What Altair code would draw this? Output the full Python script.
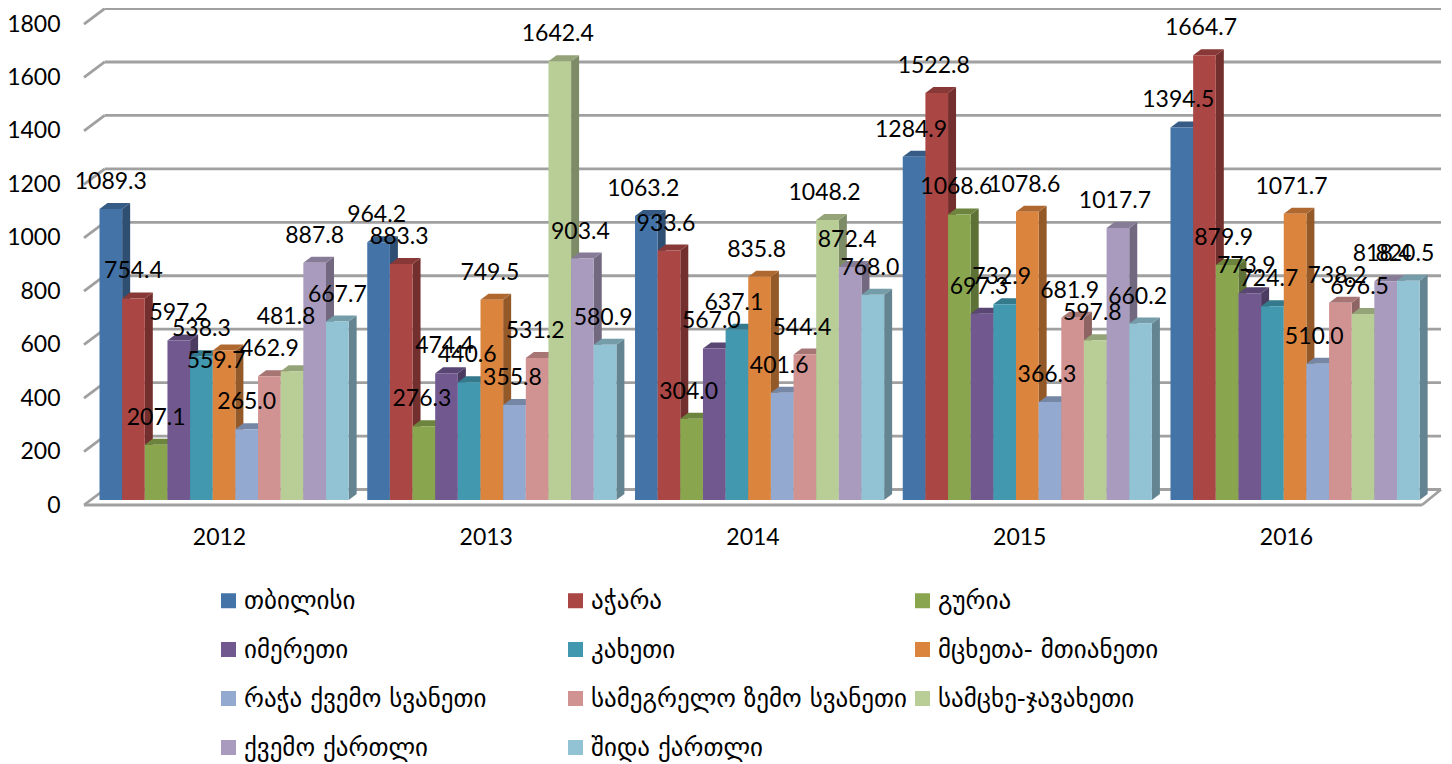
import altair as alt
import pandas as pd

YEARS = [2012, 2013, 2014, 2015, 2016]
REGIONS = ["თბილისი", "აჭარა", "გურია", "იმერეთი", "კახეთი", "მცხეთა- მთიანეთი",
           "რაჭა ქვემო სვანეთი", "სამეგრელო ზემო სვანეთი", "სამცხე-ჯავახეთი",
           "ქვემო ქართლი", "შიდა ქართლი"]
V2012 = [1089.3, 754.4, 207.1, 597.2, 538.3, 559.7, 265.0, 462.9, 481.8, 887.8, 667.7]
V2013 = [964.2, 883.3, 276.3, 474.4, 440.6, 749.5, 355.8, 531.2, 1642.4, 903.4, 580.9]
V2014 = [1063.2, 933.6, 304.0, 567.0, 637.1, 835.8, 401.6, 544.4, 1048.2, 872.4, 768.0]
V2015 = [1284.9, 1522.8, 1068.6, 697.3, 732.9, 1078.6, 366.3, 681.9, 597.8, 1017.7, 660.2]
V2016 = [1394.5, 1664.7, 879.9, 773.9, 724.7, 1071.7, 510.0, 738.2, 696.5, 818.4, 820.5]
VALUES = [V2012, V2013, V2014, V2015, V2016]
FRONT = ["#4473a8", "#aa4644", "#89a54e", "#71588f", "#4198af", "#db843d",
         "#93a9cf", "#d19392", "#b9cd96", "#a99bbd", "#92c3d4"]
TICKS = [0, 200, 400, 600, 800, 1000, 1200, 1400, 1600, 1800]

# drawing geometry, in scale units
W, H = 1357, 497
PX = 0.2672                    # pixels per value unit
YMAX = H / PX
GROUP0, GROUP_STEP, BAR_W = 15.5, 267.75, 22.65
BASE = 5 / PX
DX, DY = 8, 6 / PX             # bar depth
WALL_DX, WALL_DY = 20.7, 15.5 / PX
FRONT_W = 1338
LABEL_GAP = 27 / PX
GROUP_LABEL_SHIFT = [0, -2, -3, -3, -3.5]
# labels the reference moved away from their bars: (year, region index) -> (dx, dy) in px
MOVED = {(2012, 5): (-8, 38), (2012, 8): (-6, -27)}


def shade(hex_color, f):
    r, g, b = [int(hex_color[i:i + 2], 16) for i in (1, 3, 5)]
    return "#%02x%02x%02x" % (int(r * f), int(g * f), int(b * f))


fronts, sides, tops = [], [], []
for gi, (year, vals) in enumerate(zip(YEARS, VALUES)):
    for si, (reg, v) in enumerate(zip(REGIONS, vals)):
        l = GROUP0 + gi * GROUP_STEP + si * BAR_W
        r = l + BAR_W
        t = BASE + v
        bid = f"{year}-{si}"
        mdx, mdy = MOVED.get((year, si), (0, 0))
        fronts.append(dict(id=bid, region=reg, l=l, r=r, t=t, b=BASE,
                           lx=(l + r) / 2 + GROUP_LABEL_SHIFT[gi] + mdx,
                           ly=t + LABEL_GAP - mdy / PX,
                           label=f"{v:.1f}"))
        col = shade(FRONT[si], 0.68)
        sides += [dict(id=bid, col=col, x=r, y=t, y2=BASE),
                  dict(id=bid, col=col, x=r + DX, y=t + DY, y2=BASE + DY)]
        col = shade(FRONT[si], 0.8)
        tops += [dict(id=bid, col=col, x=l, y=t, y2=t),
                 dict(id=bid, col=col, x=l + DX, y=t + DY, y2=t),
                 dict(id=bid, col=col, x=r, y=t + DY, y2=t),
                 dict(id=bid, col=col, x=r + DX, y=t + DY, y2=t + DY)]

fronts = pd.DataFrame(fronts)
sides = pd.DataFrame(sides)
tops = pd.DataFrame(tops)
ticks = pd.DataFrame({"v": TICKS})
ticks["vb"] = ticks.v + WALL_DY
ticks["x0"] = 0.0
ticks["x1"] = WALL_DX
ticks["x2"] = float(W)

xs = alt.Scale(domain=[0, W], range=[0, W], nice=False, zero=False)
ys = alt.Scale(domain=[0, YMAX], nice=False, zero=False)
GRID = "#a0a0a0"
CENTERS = [135 + 266.75 * i for i in range(5)]
label_expr = f"{YEARS}[round((datum.value - 135) / 266.75)] + ''"

x_axis = alt.Axis(values=CENTERS, labelExpr=label_expr, title=None, domain=False, ticks=False,
                  grid=False, labelFont="Lato", labelFontSize=23, labelColor="#000000",
                  labelPadding=32, labelBaseline="middle", labelAngle=0)
y_axis = alt.Axis(values=TICKS, title=None, domain=False, ticks=False, grid=False,
                  labelFont="Lato", labelFontSize=23, labelColor="#000000",
                  labelPadding=24, format="d")

back = alt.Chart(ticks).mark_rule(color=GRID, strokeWidth=2.8).encode(
    x=alt.X("x1:Q", scale=xs, axis=x_axis), x2="x2:Q",
    y=alt.Y("vb:Q", scale=ys, axis=y_axis))
wall = alt.Chart(ticks).mark_rule(color=GRID, strokeWidth=2.8).encode(
    x=alt.X("x0:Q", scale=xs), x2="x1:Q",
    y=alt.Y("v:Q", scale=ys), y2="vb:Q")
floor_front = alt.Chart(pd.DataFrame({"a": [0.0], "b": [float(FRONT_W)], "v": [0.0]})).mark_rule(
    color=GRID, strokeWidth=3).encode(
    x=alt.X("a:Q", scale=xs), x2="b:Q", y=alt.Y("v:Q", scale=ys))
floor_right = alt.Chart(pd.DataFrame({"a": [float(FRONT_W)], "b": [float(W)], "v": [0.0], "w": [WALL_DY]})).mark_rule(
    color=GRID, strokeWidth=2.8).encode(
    x=alt.X("a:Q", scale=xs), x2="b:Q", y=alt.Y("v:Q", scale=ys), y2="w:Q")


def face(df):
    return alt.Chart(df).mark_area(interpolate="linear", opacity=1).encode(
        x=alt.X("x:Q", scale=xs),
        y=alt.Y("y:Q", scale=ys, stack=None),
        y2="y2:Q",
        detail="id:N",
        color=alt.Color("col:N", scale=None),
    )


front = alt.Chart(fronts).mark_rect().encode(
    x=alt.X("l:Q", scale=xs), x2="r:Q",
    y=alt.Y("t:Q", scale=ys), y2="b:Q",
    fill=alt.Fill("region:N", scale=alt.Scale(domain=REGIONS, range=FRONT),
                  legend=alt.Legend(title=None, orient="none", legendX=132, legendY=580, columns=3,
                                    direction="horizontal",
                                    symbolType="square", symbolSize=225, symbolStrokeWidth=0,
                                    symbolOffset=0,
                                    labelFont="DejaVu Sans", labelFontSize=25, labelColor="#000000",
                                    labelLimit=400, labelOffset=3, gridAlign="all",
                                    columnPadding=2, rowPadding=23, padding=0)),
)
text = alt.Chart(fronts).mark_text(font="Lato", fontSize=23, color="#000000", baseline="middle", align="center").encode(
    x=alt.X("lx:Q", scale=xs), y=alt.Y("ly:Q", scale=ys), text="label:N")

chart = alt.layer(back, wall, floor_front, floor_right, face(sides), face(tops), front, text).properties(
    width=W, height=H,
    padding={"left": 76, "top": 0, "right": 3, "bottom": 259},
    autosize=alt.AutoSizeParams(type="none"),
    background="#ffffff",
).configure_view(stroke=None)

chart.save("out.html", embed_options={"renderer": "svg", "actions": False})
